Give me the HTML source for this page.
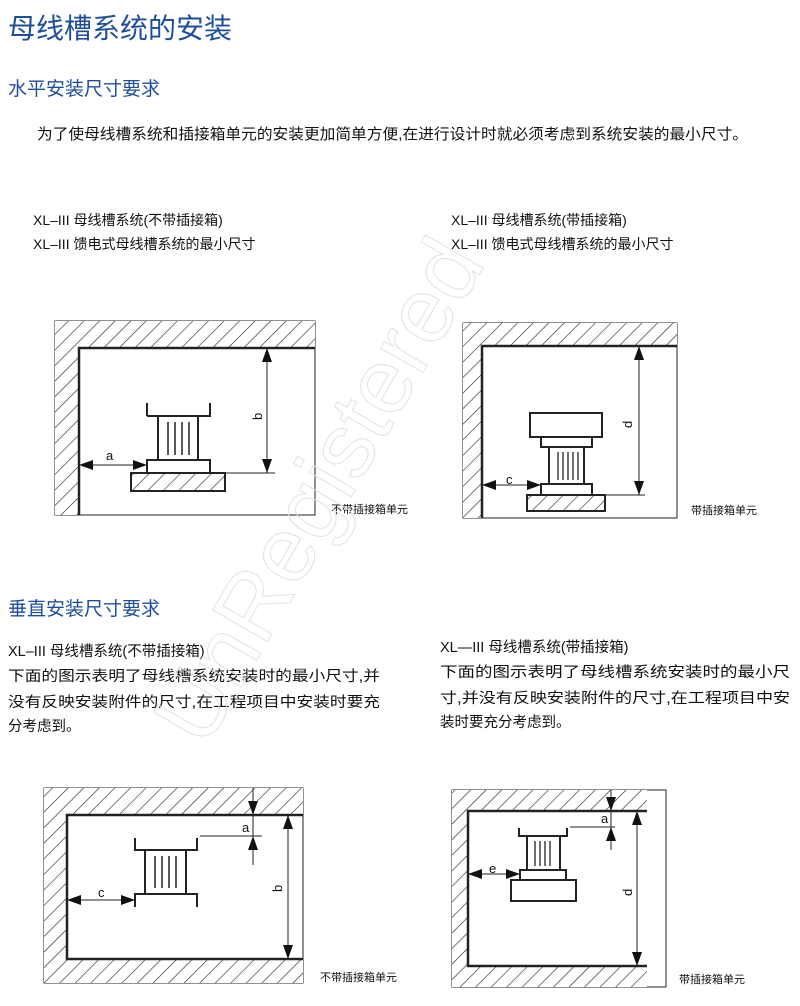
<!DOCTYPE html>
<html><head><meta charset="utf-8"><style>
html,body{margin:0;padding:0;background:#fff;}
svg{display:block;}
text{font-family:"Liberation Sans","Noto Sans CJK SC",sans-serif;}
</style></head><body>
<svg width="800" height="1006" viewBox="0 0 800 1006" xmlns="http://www.w3.org/2000/svg">
<defs>
<pattern id="h" patternUnits="userSpaceOnUse" width="11" height="11" patternTransform="rotate(45)">
<rect width="11" height="11" fill="#fff"/><line x1="0" y1="0" x2="0" y2="11" stroke="#222" stroke-width="1.2"/>
</pattern>
<marker id="ar" markerUnits="userSpaceOnUse" markerWidth="14" markerHeight="10" refX="14" refY="5" orient="auto-start-reverse">
<path d="M0,0 L14,5 L0,10 Z" fill="#111"/></marker>
</defs>

<text x="8" y="38" font-size="28" fill="#1f4e9a">母线槽系统的安装</text>
<text x="8" y="95" font-size="19" fill="#1f4e9a">水平安装尺寸要求</text>
<text x="37" y="139" font-size="15" fill="#111" textLength="711" lengthAdjust="spacingAndGlyphs">为了使母线槽系统和插接箱单元的安装更加简单方便,在进行设计时就必须考虑到系统安装的最小尺寸。</text>

<g font-size="14" fill="#111">
<text x="33" y="225">XL–III 母线槽系统(不带插接箱)</text>
<text x="33" y="249">XL–III 馈电式母线槽系统的最小尺寸</text>
<text x="451" y="225">XL–III 母线槽系统(带插接箱)</text>
<text x="451" y="249">XL–III 馈电式母线槽系统的最小尺寸</text>
</g>

<text x="8" y="615" font-size="19" fill="#1f4e9a">垂直安装尺寸要求</text>
<g font-size="14.5" fill="#111">
<text x="8" y="656">XL–III 母线槽系统(不带插接箱)</text>
<text x="8" y="681" textLength="372" lengthAdjust="spacingAndGlyphs">下面的图示表明了母线槽系统安装时的最小尺寸,并</text>
<text x="8" y="707" textLength="372" lengthAdjust="spacingAndGlyphs">没有反映安装附件的尺寸,在工程项目中安装时要充</text>
<text x="8" y="731">分考虑到。</text>
<text x="440" y="652">XL—III 母线槽系统(带插接箱)</text>
<text x="440" y="677" textLength="350" lengthAdjust="spacingAndGlyphs">下面的图示表明了母线槽系统安装时的最小尺</text>
<text x="440" y="703" textLength="350" lengthAdjust="spacingAndGlyphs">寸,并没有反映安装附件的尺寸,在工程项目中安</text>
<text x="440" y="727">装时要充分考虑到。</text>
</g>

<g stroke="#222" fill="none">
<!-- Diagram 1 -->
<rect x="55" y="321" width="260" height="194" stroke-width="1"/>
<path d="M55,321 H315 V348 H79 V515 H55 Z" fill="url(#h)" stroke="none"/>
<path d="M79,515 V348 H315" stroke-width="2.5"/>
<path d="M147,416 V403 M147,416 H210 V403" stroke-width="2"/>
<rect x="158" y="416" width="40" height="44" stroke-width="2" fill="#fff"/>
<path d="M168,422 V455 M175,422 V455 M182,422 V455 M189,422 V455" stroke-width="1.5"/>
<rect x="147" y="460" width="63" height="13" stroke-width="2" fill="#fff"/>
<rect x="131" y="473" width="94" height="18" stroke-width="2" fill="url(#h)"/>
<line x1="210" y1="473" x2="275" y2="473" stroke-width="1"/>
<line x1="267" y1="348" x2="267" y2="473" stroke-width="1" marker-start="url(#ar)" marker-end="url(#ar)"/>
<line x1="79" y1="465" x2="147" y2="465" stroke-width="1" marker-start="url(#ar)" marker-end="url(#ar)"/>

<!-- Diagram 2 -->
<rect x="463" y="323" width="214" height="195" stroke-width="1"/>
<path d="M463,323 H677 V346 H482 V518 H463 Z" fill="url(#h)" stroke="none"/>
<path d="M482,518 V346 H677" stroke-width="2.5"/>
<rect x="530" y="413" width="72" height="24" stroke-width="2" fill="#fff"/>
<rect x="541" y="437" width="51" height="10" stroke-width="2" fill="#fff"/>
<rect x="549" y="447" width="35" height="37" stroke-width="2" fill="#fff"/>
<path d="M558,452 V480 M563,452 V480 M568,452 V480 M573,452 V480 M578,452 V480" stroke-width="1.3"/>
<rect x="541" y="484" width="51" height="11" stroke-width="2" fill="#fff"/>
<rect x="527" y="495" width="78" height="16" stroke-width="2" fill="url(#h)"/>
<line x1="592" y1="495" x2="645" y2="495" stroke-width="1"/>
<line x1="639" y1="346" x2="639" y2="495" stroke-width="1" marker-start="url(#ar)" marker-end="url(#ar)"/>
<line x1="482" y1="485" x2="541" y2="485" stroke-width="1" marker-start="url(#ar)" marker-end="url(#ar)"/>

<!-- Diagram 3 -->
<rect x="44" y="788" width="259" height="195" stroke-width="1"/>
<path d="M44,788 H303 V815 H67 V959 H303 V983 H44 Z" fill="url(#h)" stroke="none"/>
<path d="M303,815 H67 V959 H303" stroke-width="2.5"/>
<path d="M135,838 V850 H197 V838" stroke-width="2"/>
<rect x="145" y="850" width="41" height="44" stroke-width="2" fill="#fff"/>
<path d="M155,856 V888 M162,856 V888 M169,856 V888 M176,856 V888" stroke-width="1.5"/>
<path d="M135,907 V894 H197 V907" stroke-width="2"/>
<line x1="200" y1="836" x2="262" y2="836" stroke-width="1"/>
<line x1="253" y1="788" x2="253" y2="815" stroke-width="1" marker-end="url(#ar)"/>
<line x1="253" y1="865" x2="253" y2="836" stroke-width="1" marker-end="url(#ar)"/>
<line x1="253" y1="815" x2="253" y2="836" stroke-width="1"/>
<line x1="288" y1="815" x2="288" y2="959" stroke-width="1" marker-start="url(#ar)" marker-end="url(#ar)"/>
<line x1="67" y1="900" x2="135" y2="900" stroke-width="1" marker-start="url(#ar)" marker-end="url(#ar)"/>

<!-- Diagram 4 -->
<rect x="452" y="790" width="214" height="197" stroke-width="1"/>
<path d="M452,790 H647 V811 H468 V966 H647 V987 H452 Z" fill="url(#h)" stroke="none"/>
<path d="M647,811 H468 V966 H647" stroke-width="2.5"/>
<path d="M519,828 V836 H567 V828" stroke-width="2"/>
<rect x="527" y="836" width="33" height="34" stroke-width="2" fill="#fff"/>
<path d="M535,841 V866 M540,841 V866 M545,841 V866 M550,841 V866" stroke-width="1.3"/>
<rect x="520" y="870" width="46" height="10" stroke-width="2" fill="#fff"/>
<rect x="511" y="880" width="65" height="21" stroke-width="2" fill="#fff"/>
<line x1="570" y1="827" x2="615" y2="827" stroke-width="1"/>
<line x1="611" y1="790" x2="611" y2="811" stroke-width="1" marker-end="url(#ar)"/>
<line x1="611" y1="850" x2="611" y2="827" stroke-width="1" marker-end="url(#ar)"/>
<line x1="611" y1="811" x2="611" y2="827" stroke-width="1"/>
<line x1="637" y1="811" x2="637" y2="966" stroke-width="1" marker-start="url(#ar)" marker-end="url(#ar)"/>
<line x1="468" y1="874" x2="520" y2="874" stroke-width="1" marker-start="url(#ar)" marker-end="url(#ar)"/>
</g>

<g font-size="13" fill="#111">
<text x="106" y="460">a</text>
<text transform="translate(262,420) rotate(-90)">b</text>
<text x="506" y="484">c</text>
<text transform="translate(632,428) rotate(-90)">d</text>
<text x="98" y="897">c</text>
<text x="242" y="832">a</text>
<text transform="translate(282,892) rotate(-90)">b</text>
<text x="489" y="873">e</text>
<text x="601" y="823">a</text>
<text transform="translate(632,896) rotate(-90)">d</text>
</g>
<g font-size="11" fill="#111">
<text x="331" y="513">不带插接箱单元</text>
<text x="691" y="514">带插接箱单元</text>
<text x="320" y="981">不带插接箱单元</text>
<text x="679" y="983">带插接箱单元</text>
</g>

<text transform="translate(205,750) rotate(-60)" font-size="92" fill="none" stroke="#e2e2e2" stroke-width="1">UnRegistered</text>
</svg>
</body></html>
